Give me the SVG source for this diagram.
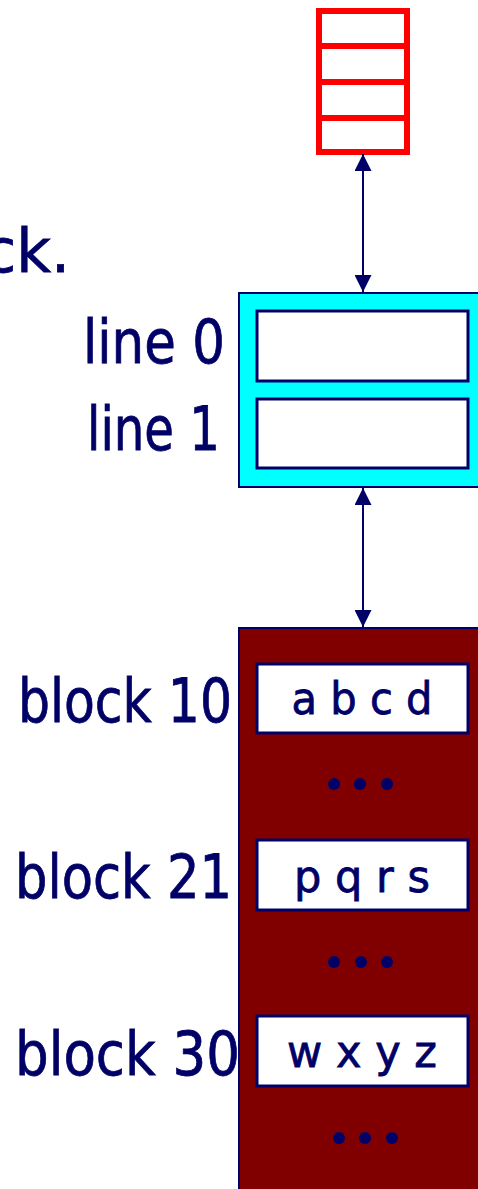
<svg xmlns="http://www.w3.org/2000/svg" width="478" height="1189" viewBox="0 0 478 1189">
<style>
.t{font-family:"Comic Sans MS","DejaVu Sans",sans-serif;fill:#000066;stroke:#000066;stroke-width:0.8}
.lbl{font-size:60px}
.cell{fill:#fff;stroke:#000066;stroke-width:3}
.ct{font-size:44px;text-anchor:middle}
.dot{fill:#000066}
.con{stroke:#000066;stroke-width:2;fill:none;marker-start:url(#ah);marker-end:url(#ah)}
</style>
<defs>
<marker id="ah" viewBox="0 0 10 10" refX="10" refY="5" markerWidth="17" markerHeight="17" markerUnits="userSpaceOnUse" orient="auto-start-reverse">
<path d="M0,0 L10,5 L0,10 z" fill="#000066"/>
</marker>
</defs>
<text class="t lbl" x="70" y="272" text-anchor="end">ck.</text>
<g id="buffer">
<rect x="319" y="11" width="88" height="141" fill="#fff" stroke="#ff0000" stroke-width="6"/>
<line x1="319" y1="46" x2="407" y2="46" stroke="#ff0000" stroke-width="6"/>
<line x1="319" y1="82" x2="407" y2="82" stroke="#ff0000" stroke-width="6"/>
<line x1="319" y1="118" x2="407" y2="118" stroke="#ff0000" stroke-width="6"/>
</g>
<g id="cache">
<rect x="239" y="293" width="245" height="194" fill="#00ffff" stroke="#000066" stroke-width="2"/>
<rect class="cell" x="257" y="311" width="211" height="70"/>
<rect class="cell" x="257" y="399" width="211" height="69"/>
<text class="t lbl" x="225" y="363" text-anchor="end" textLength="142" lengthAdjust="spacingAndGlyphs">line 0</text>
<text class="t lbl" x="220" y="450" text-anchor="end" textLength="133" lengthAdjust="spacingAndGlyphs">line 1</text>
</g>
<g id="memory">
<rect x="239" y="628" width="245" height="570" fill="#800000" stroke="#000066" stroke-width="2"/>
<rect class="cell" x="257" y="664" width="211" height="69"/>
<text class="t ct" x="362" y="714" textLength="141" lengthAdjust="spacingAndGlyphs">a b c d</text>
<circle class="dot" cx="334" cy="784" r="6"/><circle class="dot" cx="360" cy="784" r="6"/><circle class="dot" cx="387" cy="784" r="6"/>
<rect class="cell" x="257" y="840" width="211" height="70"/>
<text class="t ct" x="362" y="892" textLength="136" lengthAdjust="spacingAndGlyphs">p q r s</text>
<circle class="dot" cx="334" cy="962" r="6"/><circle class="dot" cx="361" cy="962" r="6"/><circle class="dot" cx="387" cy="962" r="6"/>
<rect class="cell" x="257" y="1016" width="211" height="70"/>
<text class="t ct" x="362" y="1067" textLength="150" lengthAdjust="spacingAndGlyphs">w x y z</text>
<circle class="dot" cx="339" cy="1138" r="6"/><circle class="dot" cx="365" cy="1138" r="6"/><circle class="dot" cx="392" cy="1138" r="6"/>
<text class="t lbl" x="18" y="722" textLength="214" lengthAdjust="spacingAndGlyphs">block 10</text>
<text class="t lbl" x="15" y="898" textLength="217" lengthAdjust="spacingAndGlyphs">block 21</text>
<text class="t lbl" x="15" y="1075" textLength="225" lengthAdjust="spacingAndGlyphs">block 30</text>
</g>
<g id="connectors">
<line class="con" x1="363" y1="154" x2="363" y2="292"/>
<line class="con" x1="363" y1="488" x2="363" y2="627"/>
</g>
</svg>
